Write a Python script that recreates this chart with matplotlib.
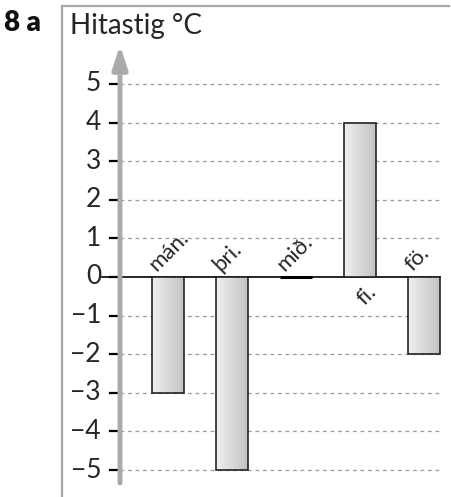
import numpy as np
import matplotlib
matplotlib.use("Agg")
import matplotlib.pyplot as plt

plt.rcParams['font.family'] = ['Lato', 'DejaVu Sans']

# data
days = ["mán.", "þri.", "mið.", "fi.", "fö."]
temps = [-3, -5, 0, 4, -2]
yticks = [5, 4, 3, 2, 1, 0, -1, -2, -3, -4, -5]
ytick_labels = ["5", "4", "3", "2", "1", "0", "\u2212" + "1", "\u2212" + "2", "\u2212" + "3", "\u2212" + "4", "\u2212" + "5"]

W, H = 451, 497
fig = plt.figure(figsize=(W / 100, H / 100), dpi=100)
ax = fig.add_axes([62 / W, 0, (449 - 62) / W, (497 - 6) / H])

# pixel-based mapping: bar 0 centre at 168px, 64px spacing; y=0 at 277px, 38.6px per unit
x0, dx = 168, 64
y0, dy = 277, 38.6
ax.set_xlim((62 - x0) / dx, (449 - x0) / dx)
ax.set_ylim((y0 - 497) / dy, (y0 - 6) / dy)

for s in ["right", "bottom"]:
    ax.spines[s].set_visible(False)
for s in ["top", "left"]:
    ax.spines[s].set_color("#a8a8a8")
    ax.spines[s].set_linewidth(1.6)
ax.set_xticks([])
ax.set_yticks([])

xs = np.arange(len(days))
axis_x = (120 - x0) / dx
grid_end = (440 - x0) / dx
txt = "#262626"

# dashed gridlines
for t in yticks:
    if t != 0:
        ax.plot([axis_x, grid_end], [t, t], color="#999999", lw=0.9,
                ls=(0, (3, 3)), zorder=1)
ax.plot([(102 - x0) / dx, grid_end], [0, 0], color="black", lw=1.2, zorder=2)

# tick marks and labels
for t, lab in zip(yticks, ytick_labels):
    ax.plot([(110 - x0) / dx, (118 - x0) / dx], [t, t], color="black", lw=1.6, zorder=3)
    ax.text((101 - x0) / dx, t, lab, ha="right", va="center", fontsize=19,
            color=txt)

# y axis arrow
ax.annotate("", xy=(axis_x, (y0 - 45) / dy), xytext=(axis_x, (y0 - 483) / dy),
            arrowprops=dict(arrowstyle="-|>,head_length=1.4,head_width=0.45",
                            color="#aaaaaa", lw=3.5, shrinkA=0, shrinkB=0),
            zorder=4)

# bars with gradient fill
grad = np.linspace(0, 1, 64).reshape(1, -1)
cmap = matplotlib.colors.LinearSegmentedColormap.from_list("g", ["#f0f0f0", "#c2c2c2"])
bars = ax.bar(xs, temps, width=0.5, facecolor="none", edgecolor="#222222",
              linewidth=1.2, zorder=5)
for b, v in zip(bars, temps):
    if v == 0:
        b.set_linewidth(2.2)
        b.set_edgecolor("black")
        continue
    x, y = b.get_x(), b.get_y()
    w, h = b.get_width(), b.get_height()
    im = ax.imshow(grad, cmap=cmap, aspect="auto", extent=[x, x + w, y, y + h],
                   zorder=4.5)
    im.set_clip_path(b)
ax.set_xlim((62 - x0) / dx, (449 - x0) / dx)
ax.set_ylim((y0 - 497) / dy, (y0 - 6) / dy)

# category labels
for x, v, lab in zip(xs, temps, days):
    if v > 0:
        ax.text(x + 0.1, -0.12, lab, rotation=45, rotation_mode="anchor",
                ha="right", va="top", fontsize=16, color=txt)
    else:
        ax.text(x - 0.13, 0.06, lab, rotation=45, rotation_mode="anchor",
                ha="left", va="bottom", fontsize=16, color=txt)

fig.text(4 / W, 1 - 31 / H, "8 a", fontsize=20, fontweight="heavy", va="baseline",
         ha="left", color="#111111")
fig.text(70 / W, 1 - 34 / H, "Hitastig °C", fontsize=20,
         va="baseline", ha="left", color=txt)

fig.savefig("out.png", dpi=100)
